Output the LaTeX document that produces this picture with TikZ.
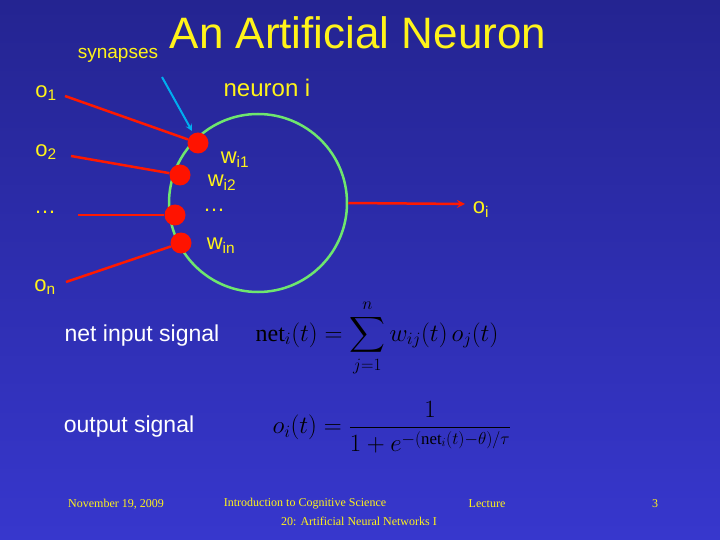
\documentclass[tikz,border=0pt]{standalone}
\usepackage{amsmath}
\usepackage{fontspec}
\setmainfont{Liberation Sans}
\newfontfamily\serifx{Liberation Serif}
\newcommand{\nettx}{\text{\serifx net}}
\begin{document}
\begin{tikzpicture}[x=1pt,y=-1pt,
  lab/.style={text=yellow!90!white,font=\fontsize{22}{24}\selectfont},
  wht/.style={text=white,font=\fontsize{23}{25}\selectfont},
  foot/.style={text=yellow!90!white,font=\serifx\fontsize{12}{13}\selectfont},
  syn/.style={circle,fill=red!85!orange,minimum size=21pt,inner sep=0pt},
  inp/.style={draw=red!80!orange,line width=2.5pt},
  eq/.style={text=black,font=\fontsize{24}{26}\selectfont}]
\fill[top color={rgb,255:red,36;green,36;blue,145},bottom color={rgb,255:red,55;green,55;blue,205}] (0,0) rectangle (720,540);
\useasboundingbox (0,0) rectangle (720,540);
\node[text=yellow!90!white,font=\fontsize{44}{46}\selectfont] (title) at (358,33) {An Artificial Neuron};
\node[lab,font=\fontsize{19}{21}\selectfont] (synl) at (118,55) {synapses};
\node[lab,font=\fontsize{24}{26}\selectfont] (nl) at (267,88) {neuron i};
\node[draw={rgb,255:red,110;green,230;blue,110},line width=2.5pt,circle,minimum size=178pt] (cell) at (258,203) {};
\coordinate (oute) at (465,204);
\draw[inp,-stealth] (cell.east) -- (oute);
\node[syn] (s1) at (198,143) {};
\node[syn] (s2) at (180,175) {};
\node[syn] (s3) at (175,215) {};
\node[syn] (s4) at (181,243) {};
\coordinate (i1) at (65,96);
\coordinate (i2) at (71,156);
\coordinate (i3) at (78,215);
\coordinate (i4) at (66,282);
\draw[inp] (i1) -- (s1); \draw[inp] (i2) -- (s2); \draw[inp] (i3) -- (s3); \draw[inp] (i4) -- (s4);
\coordinate (a1) at (162,77);
\coordinate (a2) at (192,131);
\draw[cyan,line width=2pt,-stealth] (a1) -- (a2);
\node[lab] (o1) at (46,93) {o\textsubscript{1}};
\node[lab] (o2) at (46,152) {o\textsubscript{2}};
\node[lab] (od) at (45,212) {…};
\node[lab] (on) at (45,287) {o\textsubscript{n}};
\node[lab] (oi) at (481,210) {o\textsubscript{i}};
\node[lab] (w1) at (235,160) {w\textsubscript{i1}};
\node[lab] (w2) at (222,183) {w\textsubscript{i2}};
\node[lab] (wd) at (214,210) {…};
\node[lab] (wn) at (221,246) {w\textsubscript{in}};
\node[wht] (nis) at (142,336) {net input signal};
\node[wht] (os) at (129,427) {output signal};
\node[eq] (e1) at (377,338) {$\nettx_i(t)=\displaystyle\sum_{j=1}^{n} w_{ij}(t)\,o_j(t)$};
\node[eq] (e2) at (392,427) {$o_i(t)=\dfrac{1}{1+e^{-(\nettx_i(t)-\theta)/\tau}}$};
\node[foot] (f1) at (116,504) {November 19, 2009};
\node[foot] (f2) at (305,504) {Introduction to Cognitive Science};
\node[foot] (f3) at (487,504) {Lecture};
\node[foot] (f4) at (359,521) {20: Artificial Neural Networks I};
\node[foot] (f5) at (655,504) {3};
\end{tikzpicture}
\end{document}
